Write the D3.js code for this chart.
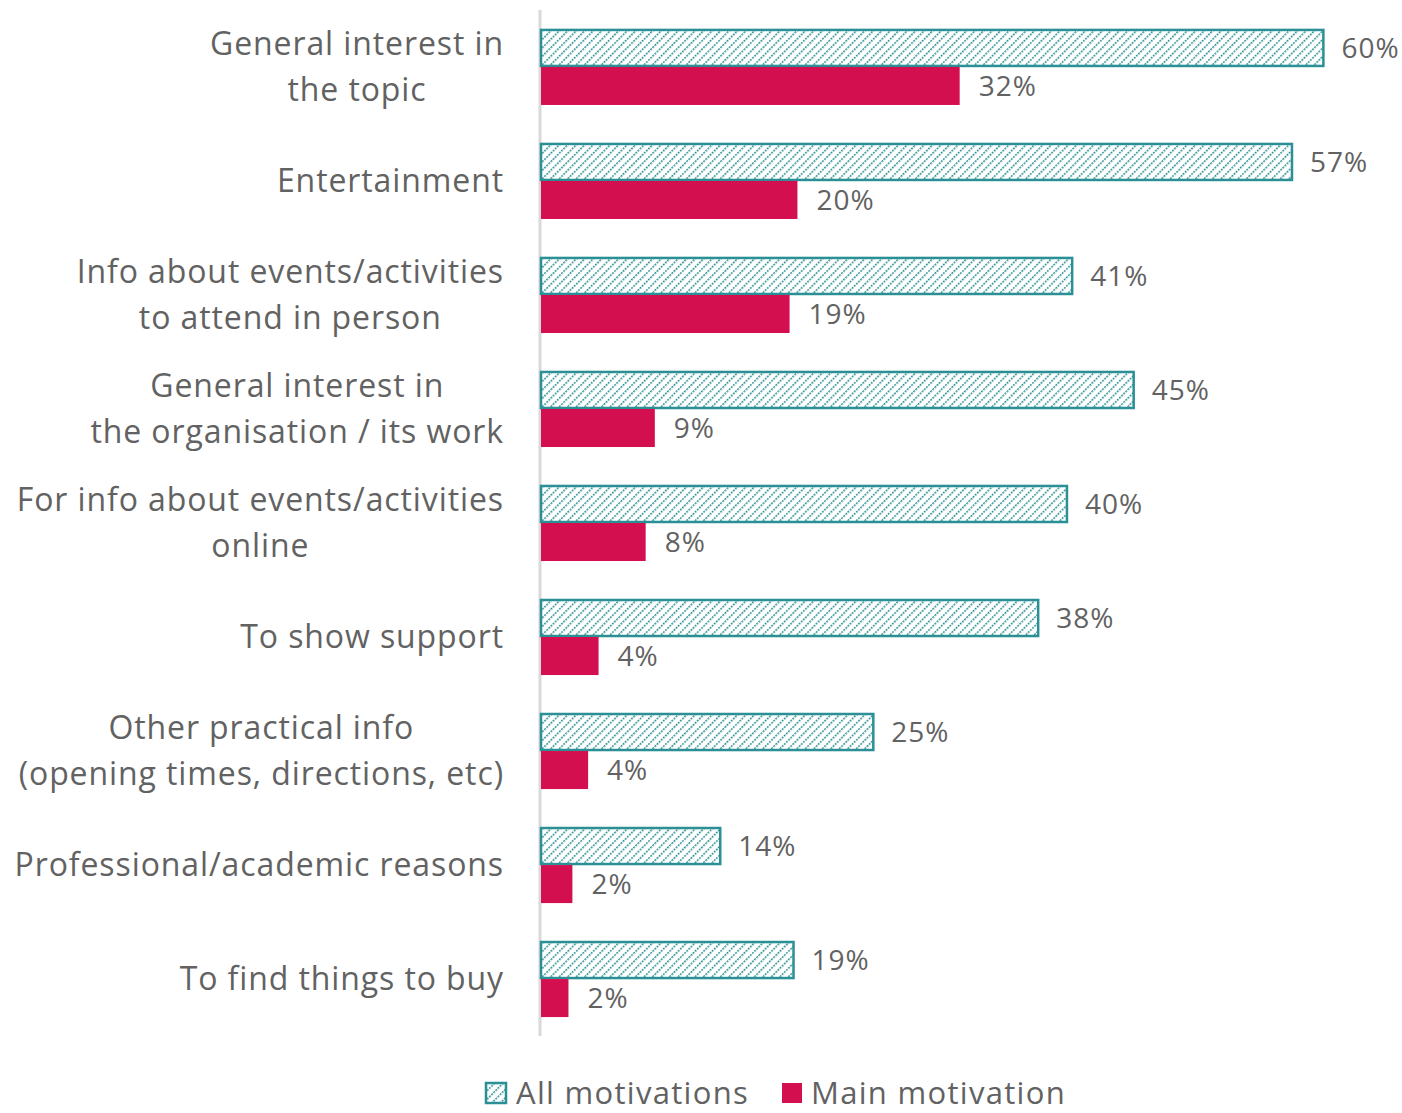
<!DOCTYPE html>
<html>
<head>
<meta charset="utf-8">
<script src="https://cdn.jsdelivr.net/npm/d3@7"></script>
<style>
  body { margin: 0; background: #fff; }
  text { font-family: "Open Sans", sans-serif; fill: #626262; }
</style>
</head>
<body>
<div id="chart"></div>
<script>
// categories, each one a list of label lines
var categories = [
  ["General interest in", "the topic"],
  ["Entertainment"],
  ["Info about events/activities", "to attend in person"],
  ["General interest in", "the organisation / its work"],
  ["For info about events/activities", "online"],
  ["To show support"],
  ["Other practical info", "(opening times, directions, etc)"],
  ["Professional/academic reasons"],
  ["To find things to buy"]
];
// values, shown rounded
var allMotivations = [59.8, 57.4, 40.6, 45.3, 40.2, 38.0, 25.4, 13.7, 19.3];
var mainMotivation = [32.0, 19.6, 19.0, 8.7, 8.0, 4.4, 3.6, 2.4, 2.1];
var seriesNames = ["All motivations", "Main motivation"];

var width = 1402, height = 1113;
var margin = { top: 10, right: 60, bottom: 77, left: 541 };

var teal = "#2a9096", red = "#d40f4f";
var fmt = function(v) { return d3.format(".0f")(v) + "%"; };

var svg = d3.select("#chart").append("svg")
    .attr("width", width)
    .attr("height", height);

// hatch pattern for the "all" bars
var defs = svg.append("defs");
var pat = defs.append("pattern")
    .attr("id", "hatch")
    .attr("patternUnits", "userSpaceOnUse")
    .attr("width", 6)
    .attr("height", 6)
    .attr("patternTransform", "rotate(45)");
pat.append("rect").attr("width", 6).attr("height", 6).attr("fill", "#fff");
pat.append("line")
    .attr("x1", 0).attr("y1", 0).attr("x2", 0).attr("y2", 6)
    .attr("stroke", teal)
    .attr("stroke-width", 3)
    .attr("stroke-dasharray", "2,1");

var keys = categories.map(function(d, i) { return i; });

var x = d3.scaleLinear()
    .domain([0, 60])
    .range([margin.left, margin.left + 785]);

var y = d3.scaleBand()
    .domain(keys)
    .range([margin.top, height - margin.bottom])
    .paddingInner(0.333)
    .paddingOuter(0.166);

var y1 = d3.scaleBand()
    .domain([0, 1])
    .range([0, y.bandwidth()]);

// vertical axis line
svg.append("line")
    .attr("x1", margin.left - 1).attr("x2", margin.left - 1)
    .attr("y1", margin.top).attr("y2", height - margin.bottom)
    .attr("stroke", "#d9d9d9")
    .attr("stroke-width", 3);

var g = svg.selectAll(".grp")
    .data(keys)
  .enter().append("g")
    .attr("transform", function(i) { return "translate(0," + y(i) + ")"; });

// all motivations bars
g.append("rect")
    .attr("x", x(0))
    .attr("y", function() { return y1(0) + 1; })
    .attr("width", function(i) { return x(allMotivations[i]) - x(0); })
    .attr("height", y1.bandwidth() - 2)
    .attr("fill", "url(#hatch)")
    .attr("stroke", teal)
    .attr("stroke-width", 2.5);

// main motivation bars
g.append("rect")
    .attr("x", x(0))
    .attr("y", y1(1))
    .attr("width", function(i) { return x(mainMotivation[i]) - x(0); })
    .attr("height", y1.bandwidth())
    .attr("fill", red);

// value labels
g.append("text")
    .attr("x", function(i) { return x(allMotivations[i]) + 18; })
    .attr("y", y1(0) + y1.bandwidth() / 2)
    .attr("dy", "0.35em")
    .style("font-size", "28px")
    .style("letter-spacing", "1px")
    .text(function(i) { return fmt(allMotivations[i]); });

g.append("text")
    .attr("x", function(i) { return x(mainMotivation[i]) + 19; })
    .attr("y", y1(1) + y1.bandwidth() / 2)
    .attr("dy", "0.35em")
    .style("font-size", "28px")
    .style("letter-spacing", "1px")
    .text(function(i) { return fmt(mainMotivation[i]); });

// category labels, centred block, right edge at 504
var lineH = 46;
g.each(function(i) {
  var lines = categories[i];
  var lbl = d3.select(this).append("text")
      .style("font-size", "32px")
      .style("letter-spacing", "0.9px")
      .attr("text-anchor", "middle");
  var tspans = lines.map(function(l, k) {
    return lbl.append("tspan")
        .attr("y", y.bandwidth() / 2 + (k - (lines.length - 1) / 2) * lineH)
        .attr("dy", "0.35em")
        .text(l);
  });
  var maxW = d3.max(tspans, function(t) { return t.node().getComputedTextLength(); });
  tspans.forEach(function(t) { t.attr("x", 504 - maxW / 2); });
});

// legend
var leg = svg.append("g").attr("transform", "translate(0,1093)");
leg.append("rect")
    .attr("x", 486).attr("y", -10).attr("width", 20).attr("height", 20)
    .attr("fill", "url(#hatch)")
    .attr("stroke", teal).attr("stroke-width", 2.5);
leg.append("text")
    .attr("x", 516).attr("dy", "0.35em")
    .style("font-size", "31px")
    .style("letter-spacing", "1.3px")
    .text(seriesNames[0]);
leg.append("rect")
    .attr("x", 782).attr("y", -10).attr("width", 20).attr("height", 20)
    .attr("fill", red);
leg.append("text")
    .attr("x", 811).attr("dy", "0.35em")
    .style("font-size", "31px")
    .style("letter-spacing", "1.3px")
    .text(seriesNames[1]);
</script>
</body>
</html>
